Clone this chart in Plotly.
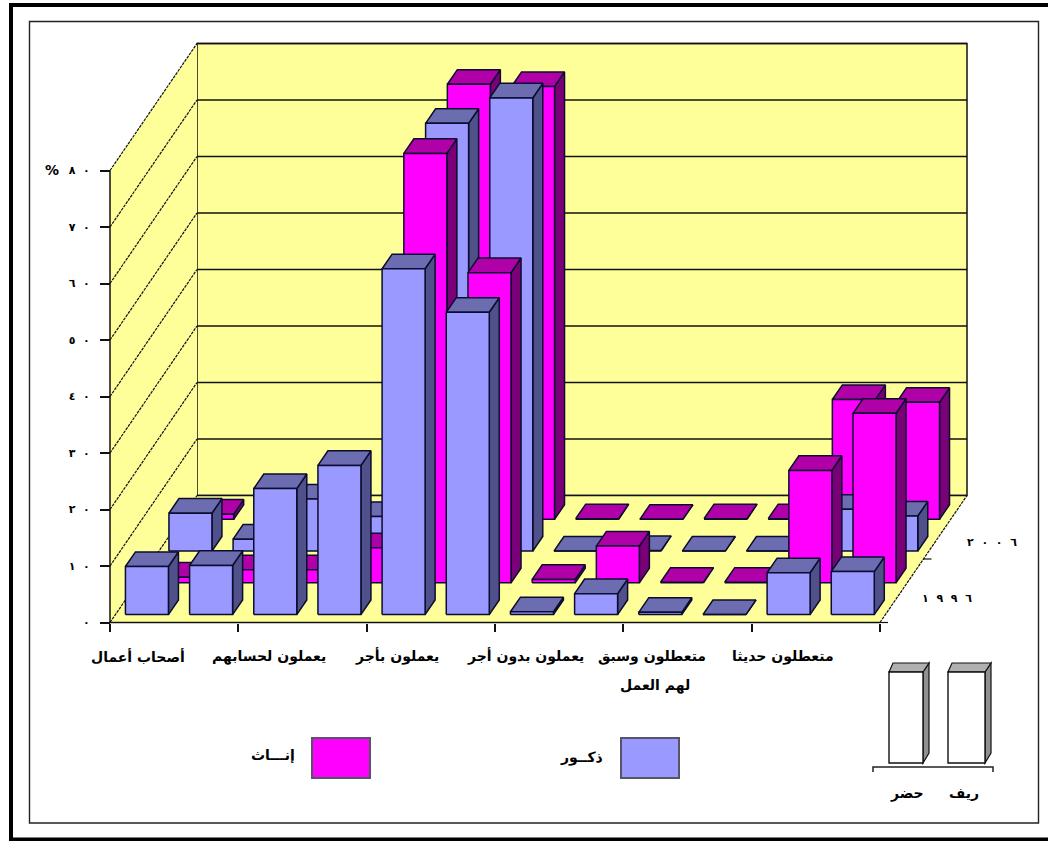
import plotly.graph_objects as go

# ---- data (percent), left to right along the category axis; each category = rural, urban pair
categories = ["أصحاب أعمال", "يعملون لحسابهم", "يعملون بأجر", "يعملون بدون أجر",
              "متعطلون وسبق", "متعطلون حديثا"]
category_second_line = {4: "لهم العمل"}
male_1996 = [8.5, 8.7, 22.3, 26.4, 61.2, 53.5, 0.5, 3.7, 0.4, 0.0, 7.4, 7.6]
female_1996 = [1.0, 2.3, 2.3, 6.2, 76.0, 54.9, 0.6, 6.5, 0.1, 0.1, 19.9, 30.0]
male_2006 = [6.7, 2.1, 9.2, 6.1, 75.7, 80.2, 0.0, 0.1, 0.0, 0.0, 7.4, 6.2]
female_2006 = [0.9, 0.1, 0.3, 0.3, 77.0, 76.6, 0.1, 0.0, 0.1, 0.1, 21.2, 20.7]
y_ticks = [0, 10, 20, 30, 40, 50, 60, 70, 80]
SP = "\u200e \u200e \u200e"
y_tick_labels = ["٠", "١" + SP + "٠", "٢" + SP + "٠", "٣" + SP + "٠", "٤" + SP + "٠",
                 "٥" + SP + "٠", "٦" + SP + "٠", "٧" + SP + "٠", "٨" + SP + "٠"]
year_labels = [SP.join("١٩٩٦"), SP.join("٢٠٠٦")]
legend_labels = {"male": "ذكــور", "female": "إنـــاث", "rural": "ريف", "urban": "حضر"}

# ---- styles
BLUE = ("#9999FF", "#6C6CB0", "#50508A")
MAGENTA = ("#FF00FF", "#B000A8", "#7A0078")
WALL = "#FFFF99"
EDGE = "#0C0C30"
FONT = "DejaVu Sans"

W, H = 1048, 841
L, R_EDGE, TOP, BOTTOM = 110.0, 880.0, 170.5, 622.5
SLOT = (R_EDGE - L) / 12
PCT = (BOTTOM - TOP) / 80
ROW_DX = 21.75 / SLOT      # depth shear per row, in slot units
ROW_DY = 31.75 / PCT       # depth shear per row, in percent units
BAR_W = 43 / SLOT
BAR_INSET = 10 / SLOT
ROW_START = 0.25
BAR_D = 0.46


def proj(x, depth, v):
    return x + depth * ROW_DX, v + depth * ROW_DY


def polygon(points):
    xs, ys = zip(*[proj(*p) for p in points])
    return list(xs) + [xs[0]], list(ys) + [ys[0]]


fig = go.Figure()


def add_poly(xs, ys, fill, line=EDGE, width=1.5):
    fig.add_trace(go.Scatter(x=xs, y=ys, mode="lines", fill="toself", fillcolor=fill,
                             line=dict(color=line, width=width), cliponaxis=False,
                             hoverinfo="skip", showlegend=False))


def add_line(xs, ys, dash="solid", width=1.5):
    fig.add_trace(go.Scatter(x=xs, y=ys, mode="lines", line=dict(color="#111111", width=width, dash=dash),
                             cliponaxis=False, hoverinfo="skip", showlegend=False))


# walls and floor
xw, yw = polygon([(0, 4, 0), (12, 4, 0), (12, 4, 80), (0, 4, 80)])
add_poly(xw, yw, WALL, "#111111", 1.5)
xw, yw = polygon([(0, 0, 0), (0, 4, 0), (0, 4, 80), (0, 0, 80)])
add_poly(xw, yw, WALL, "#111111", 0.01)
xw, yw = polygon([(0, 0, 0), (12, 0, 0), (12, 4, 0), (0, 4, 0)])
add_poly(xw, yw, WALL, "#111111", 0.01)
for v in y_ticks:
    xa, ya = proj(0, 0, v)
    xb, yb = proj(0, 4, v)
    xc, yc = proj(12, 4, v)
    add_line([xa, xb], [ya, yb], dash="3px,1px", width=1.2)
    add_line([xb, xc], [yb, yc], width=1.5)
xa, ya = proj(12, 0, 0)
xb, yb = proj(12, 4, 0)
add_line([xa, xb], [ya, yb], dash="3px,1px", width=1.2)
add_line([xa, 0], [0, 0], width=1.6)
add_line([0, 0], [0, 80], width=1.5)

# bars, rows drawn back to front
rows = [(female_2006, MAGENTA, 3), (male_2006, BLUE, 2), (female_1996, MAGENTA, 1), (male_1996, BLUE, 0)]
for values, colors, r in rows:
    front_x, front_y, top_x, top_y, side_x, side_y = [], [], [], [], [], []
    d0 = r + ROW_START
    d1 = d0 + BAR_D
    for i, v in enumerate(values):
        x0 = i + BAR_INSET
        x1 = x0 + BAR_W
        a = polygon([(x0, d0, 0), (x1, d0, 0), (x1, d0, v), (x0, d0, v)])
        b = polygon([(x0, d0, v), (x1, d0, v), (x1, d1, v), (x0, d1, v)])
        c = polygon([(x1, d0, 0), (x1, d1, 0), (x1, d1, v), (x1, d0, v)])
        front_x += a[0] + [None]; front_y += a[1] + [None]
        top_x += b[0] + [None]; top_y += b[1] + [None]
        side_x += c[0] + [None]; side_y += c[1] + [None]
    add_poly(side_x, side_y, colors[2])
    add_poly(top_x, top_y, colors[1])
    add_poly(front_x, front_y, colors[0])


# ---- page furniture, positioned in window pixels
def px(x):
    return x / W


def py(y):
    return 1 - y / H


shapes = []


def rect(x0, y0, x1, y1, fill="rgba(0,0,0,0)", color="#111111", width=1.0):
    shapes.append(dict(type="rect", xref="paper", yref="paper", x0=px(x0), x1=px(x1), y0=py(y0), y1=py(y1),
                       fillcolor=fill, line=dict(color=color, width=width), layer="below"))


def path(points, fill="rgba(0,0,0,0)", color="#111111", width=1.0, close=True):
    d = "M " + " L ".join(f"{px(a)},{py(b)}" for a, b in points) + (" Z" if close else "")
    shapes.append(dict(type="path", xref="paper", yref="paper", path=d, fillcolor=fill,
                       line=dict(color=color, width=width), layer="below"))


# frames
rect(11, 5, 1060, 839.5, color="#000000", width=4)
rect(29.5, 21.5, 1038.5, 823, color="#222222", width=1.4)
# legend keys
rect(312, 738, 370, 778, fill="#FF00FF", color="#555566", width=2)
rect(621, 738, 679, 778, fill="#9999FF", color="#555566", width=2)
# rural / urban key
for x0, x1 in [(889, 923), (948, 985)]:
    path([(x1, 672), (x1 + 6, 663), (x1 + 6, 753), (x1, 763)], fill="#909090", color="#111111", width=1.2)
    path([(x0, 672), (x0 + 4, 663), (x1 + 6, 663), (x1, 672)], fill="#B0B0B0", color="#111111", width=1.2)
    rect(x0, 672, x1, 763, fill="#FFFFFF", color="#111111", width=1.4)
path([(873, 772), (873, 767), (993, 767), (993, 772)], color="#222222", width=1.5, close=False)
# depth ticks
for depth in [0, 2]:
    xd, yd = proj(12, depth, 0)
    xe = xd + 8 / SLOT
    add_line([xd, xe], [yd, yd], width=1.2)

annotations = []


def label(x, y, text, size=14):
    annotations.append(dict(xref="paper", yref="paper", x=px(x), y=py(y), text=f"<b>{text}</b>",
                            showarrow=False, xanchor="center", yanchor="middle", align="center",
                            font=dict(family=FONT, size=size, color="#000000")))


label(52, 170, "%", 14)
for i, (x, c) in enumerate(zip([138, 269, 397, 525, 652, 783], categories)):
    label(x, 656, c)
    if i in category_second_line:
        label(x + 3, 685, category_second_line[i])
label(273, 755, legend_labels["female"])
label(581, 757, legend_labels["male"])
label(907, 793, legend_labels["urban"])
label(964, 793, legend_labels["rural"])
label(947, 598, year_labels[0], 11)
label(992, 542, year_labels[1], 11)

x_lo, x_hi = -L / SLOT, (W - L) / SLOT
y_lo, y_hi = (BOTTOM - H) / PCT, BOTTOM / PCT

fig.update_layout(
    width=W, height=H, autosize=False,
    margin=dict(l=0, r=0, t=0, b=0, pad=0),
    paper_bgcolor="#FFFFFF", plot_bgcolor="rgba(0,0,0,0)",
    showlegend=False, shapes=shapes, annotations=annotations,
    xaxis=dict(range=[x_lo, x_hi], tickvals=[0, 2, 4, 6, 8, 10, 12], ticktext=[""] * 7, ticks="outside",
               anchor="free", position=(H - BOTTOM) / H,
               ticklen=8, tickwidth=1.5, tickcolor="#111111", showgrid=False, zeroline=False, showline=False,
               fixedrange=True),
    yaxis=dict(range=[y_lo, y_hi], tickvals=y_ticks, ticktext=y_tick_labels, ticks="outside", ticklen=10,
               anchor="free", position=L / W, ticklabelstandoff=8,
               tickwidth=1.5, tickcolor="#111111", showgrid=False, zeroline=False, showline=False,
               fixedrange=True,
               tickfont=dict(family=FONT, size=11, color="#000000", weight="bold")),
)
fig.write_html("out.html", config={"displayModeBar": False},
               post_script="document.body.style.margin='0';document.body.style.overflow='hidden';")
